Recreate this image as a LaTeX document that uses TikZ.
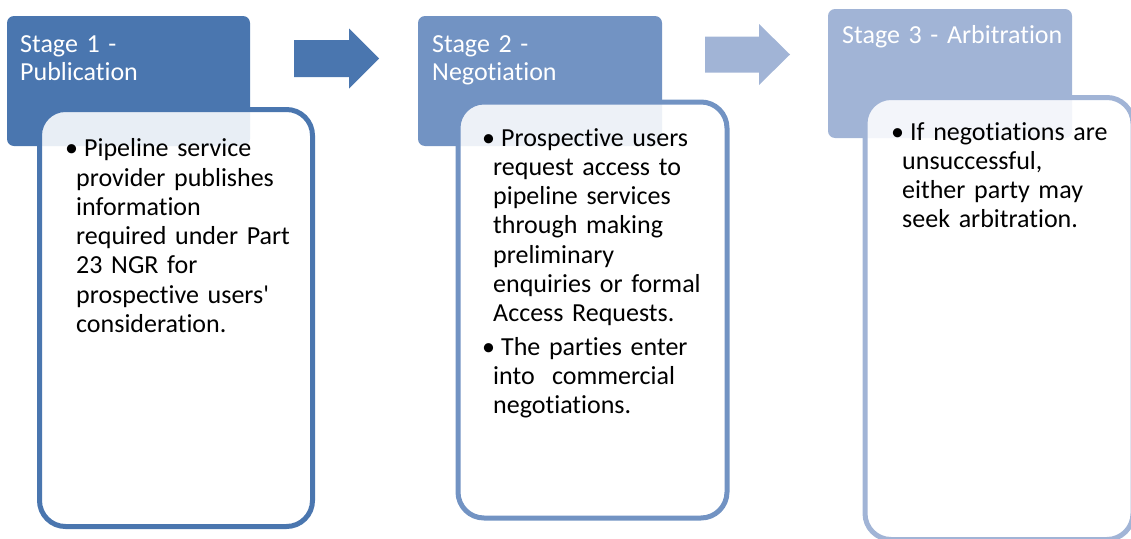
\documentclass[tikz,border=0pt]{standalone}
\usepackage{fontspec}
\setmainfont{Carlito}[Ligatures={NoCommon}]
\definecolor{stageA}{HTML}{4A76AF}
\definecolor{stageB}{HTML}{7293C3}
\definecolor{stageC}{HTML}{A1B4D6}
\newcommand\bitem{\hspace*{-11pt}\textbullet\hspace{6pt}}
\begin{document}
\begin{tikzpicture}[x=1pt, y=-1pt,
    head/.style={rectangle, rounded corners=7pt, inner sep=0pt, outer sep=0pt,
        anchor=north west, fill=#1},
    title/.style={anchor=base west, text=white, inner sep=0pt, text width=225pt,
        font=\fontsize{26}{28.3}\selectfont, align=left},
    body/.style={rectangle, rounded corners=26pt, line width=5pt, draw=#1,
        fill=white, fill opacity=0.88, inner sep=0pt, outer sep=0pt, anchor=north west},
    bodytext/.style={anchor=base west, inner sep=0pt, text width=#1,
        font=\fontsize{26}{29.3}\selectfont, align=left}]
    \useasboundingbox (0, 0) rectangle (1131, 538);
    \clip (0, 0) rectangle (1131, 538);
    % Arrows
    \fill [stageA] (294, 40) --++ (55, 0) --++ (0, -11.5) --++ (30, 30)
        --++ (-30, 30) --++ (0, -11.5) --++ (-55, 0) -- cycle;
    \fill [stageC] (705, 36.5) --++ (54, 0) --++ (0, -12.5) --++ (31, 30.5)
        --++ (-31, 30.5) --++ (0, -12.5) --++ (-54, 0) -- cycle;
    % Headers
    \node [head=stageA, minimum width=243pt, minimum height=130pt] (h1) at (7, 16) {};
    \node [head=stageB, minimum width=244pt, minimum height=130pt] (h2) at (418, 16) {};
    \node [head=stageC, minimum width=244pt, minimum height=129pt] (h3) at (828, 9) {};
    \node [title] (s1) at (20, 52) {Stage 1 -\\Publication};
    \node [title] (s2) at (432, 52) {Stage 2 -\\Negotiation};
    \node [title] (s3) at (842, 43) {Stage 3 - Arbitration};
    % Bodies
    \node [body=stageA, minimum width=273pt, minimum height=417pt] (b1) at (39.5, 109.5) {};
    \node [body=stageB, minimum width=269pt, minimum height=416pt] (b2) at (458, 102) {};
    \node [body=stageC, minimum width=268pt, minimum height=442pt] (b3) at (865, 97.5) {};
    \node [bodytext=230pt] (p1) at (76, 156.7) {\bitem Pipeline service\\
        provider publishes\\ information\\ required under Part\\ 23 NGR for\\
        prospective users\textquotesingle\\ consideration.};
    \node [bodytext=230pt] (p2) at (493, 146) {\bitem Prospective users\\
        request access to\\ pipeline services\\ through making\\ preliminary\\
        enquiries or formal\\ Access Requests.\\[4pt]
        \bitem The parties enter\\ into\ \ commercial\\ negotiations.};
    \node [bodytext=230pt] (p3) at (902, 140) {\bitem If negotiations are\\
        unsuccessful,\\ either party may\\ seek arbitration.};
\end{tikzpicture}
\end{document}
